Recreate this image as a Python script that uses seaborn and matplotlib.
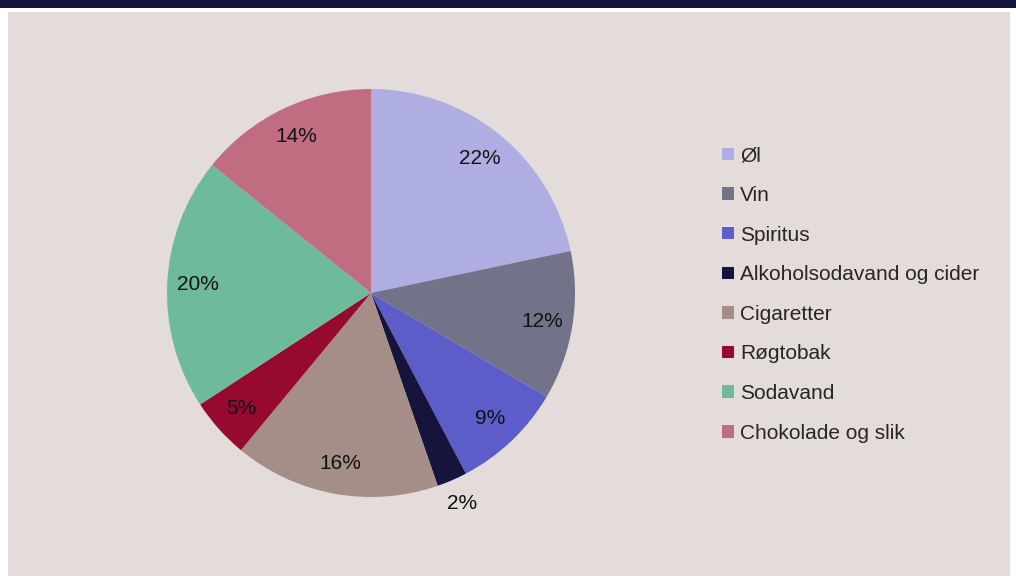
import numpy as np
import pandas as pd
import seaborn as sns
import matplotlib.pyplot as plt
from matplotlib.patches import Rectangle

# data
categories = ['Øl', 'Vin', 'Spiritus', 'Alkoholsodavand og cider',
              'Cigaretter', 'Røgtobak', 'Sodavand', 'Chokolade og slik']
shares = [21.7, 11.8, 8.8, 2.4, 16.3, 4.8, 20.0, 14.2]
colors = ['#AEAEE3', '#727289', '#5C5DC8', '#14143C',
          '#A58D88', '#950A2E', '#6DBB9B', '#C06C81']

df = pd.DataFrame({'kategori': categories, 'andel': shares})

sns.set_theme(style='white')
plt.rcParams['font.family'] = ['Liberation Sans', 'DejaVu Sans']

panel = '#E4DCDA'
fig = plt.figure(figsize=(10.16, 5.76), dpi=100, facecolor='white')

# background panel and top bar (behind the axes)
fig.patches.append(Rectangle((8 / 1016, 0), 1002 / 1016, 564 / 576,
                             transform=fig.transFigure, facecolor=panel,
                             edgecolor='none', zorder=-2))
fig.patches.append(Rectangle((0, 568 / 576), 1, 8 / 576,
                             transform=fig.transFigure, facecolor='#14143C',
                             edgecolor='none', zorder=-2))

ax = fig.add_axes([167 / 1016, 79 / 576, 408 / 1016, 408 / 576])
ax.set_facecolor('none')

wedges, texts, autotexts = ax.pie(
    df['andel'], colors=sns.color_palette(colors), startangle=90,
    counterclock=False, radius=1, autopct='%1.0f%%', pctdistance=0.85,
    wedgeprops=dict(linewidth=0), textprops=dict(fontsize=15, color='#111111'))

# small slice label goes outside the pie, like the original
small = df['andel'].idxmin()
x, y = autotexts[small].get_position()
autotexts[small].set_position((x * 1.32, y * 1.32))

ax.set_xlim(-1, 1)
ax.set_ylim(-1, 1)
ax.set_aspect('equal')
ax.axis('off')

handles = [Rectangle((0, 0), 1, 1, facecolor=c, edgecolor='none') for c in colors]
fig.legend(handles, categories, loc='upper left',
           bbox_to_anchor=(714 / 1016, 1 - 138 / 576), frameon=False,
           fontsize=15, handlelength=0.55, handleheight=0.55,
           handletextpad=0.3, labelspacing=0.99, borderaxespad=0)

fig.savefig('out.png', dpi=100, facecolor='white')
